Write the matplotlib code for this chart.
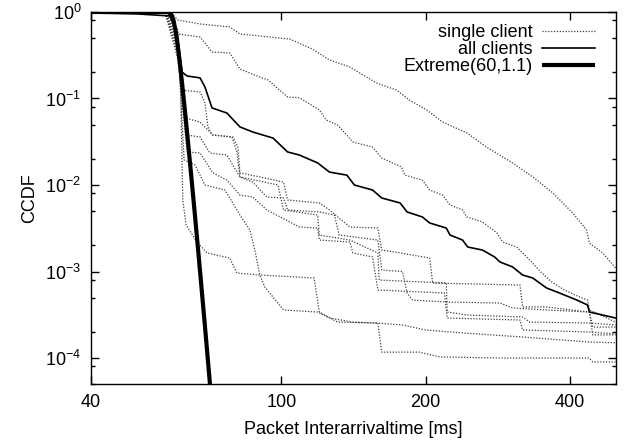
import matplotlib
matplotlib.use('Agg')
import matplotlib.pyplot as plt
from matplotlib.ticker import FixedLocator, FixedFormatter, LogLocator, NullLocator

plt.rcParams['font.family'] = ['Liberation Sans', 'DejaVu Sans']
plt.rcParams['font.size'] = 13
plt.rcParams['mathtext.fontset'] = 'custom'
plt.rcParams['mathtext.rm'] = 'Liberation Sans'
plt.rcParams['mathtext.it'] = 'Liberation Sans:italic'

# single client CCDFs
s1_x = [40, 57.1, 59.0, 60.8, 67.6, 78.0, 81.9, 104, 116, 126, 139, 158, 174, 185, 201, 217, 244, 268,
        304, 335, 369, 406, 434, 440, 469, 499]
s1_y = [1, 1, 0.948, 0.808, 0.727, 0.671, 0.557, 0.487, 0.373, 0.279, 0.231, 0.151, 0.125, 0.096, 0.0739,
        0.0535, 0.040, 0.0275, 0.018, 0.0124, 0.0081, 0.00475, 0.00302, 0.00213, 0.00164, 0.0011]

s2_x = [40, 57.1, 60.8, 67.6, 71.6, 78.0, 81.9, 90.1, 93.7, 103, 109, 120, 124, 131, 141, 155, 162, 178,
        181, 197, 204, 217, 225, 239, 244, 263, 282, 290, 310, 330, 350, 367, 390, 420, 436, 440, 469, 499]
s2_y = [1, 1, 0.557, 0.514, 0.345, 0.336, 0.219, 0.177, 0.164, 0.104, 0.102, 0.0739, 0.0565, 0.0494,
        0.0314, 0.0275, 0.0205, 0.0162, 0.0130, 0.0114, 0.00875, 0.00766, 0.00587, 0.00514, 0.00427,
        0.00374, 0.00279, 0.00219, 0.00192, 0.00136, 0.00096, 0.000756, 0.000611, 0.000507, 0.000468,
        0.000359, 0.000306, 0.00026]

l1_x = [40, 57.1, 60.8, 61.6, 62.2, 63.2, 66.6, 69.9, 78.0, 80.7, 90.1, 117, 120, 131, 158, 179, 200,
        239, 319, 440, 499]
l1_y = [1, 1, 0.619, 0.125, 0.00671, 0.00345, 0.00219, 0.00164, 0.00143, 0.00096, 0.000911, 0.000841,
        0.00034, 0.00026, 0.000254, 0.000241, 0.000211, 0.000195, 0.000175, 0.000153, 0.00015]

l2_x = [40, 57.1, 60.8, 62.0, 67.6, 69.2, 70.2, 71.6, 78.8, 80.7, 81.9, 98.3, 101, 119, 120, 139, 159,
        160, 221, 222, 244, 319, 330, 440, 499]
l2_y = [1, 1, 0.475, 0.125, 0.119, 0.0887, 0.0469, 0.0379, 0.0359, 0.0241, 0.0124, 0.01, 0.00514,
        0.0045, 0.00264, 0.00231, 0.00164, 0.000797, 0.000736, 0.00034, 0.000314, 0.000298, 0.00026,
        0.000254, 0.000241]

l3_x = [40, 57.1, 60.8, 62.9, 67.6, 71.9, 79.2, 81.1, 81.9, 90.1, 101, 103, 120, 126, 139, 159, 162,
        177, 204, 207, 315, 319, 358, 440, 447, 499]
l3_y = [1, 1, 0.364, 0.0595, 0.0535, 0.0379, 0.0359, 0.0275, 0.0138, 0.0124, 0.0108, 0.00671, 0.0062,
        0.00514, 0.00327, 0.00318, 0.00177, 0.00164, 0.00143, 0.000736, 0.000698, 0.000389, 0.000389,
        0.00034, 0.000228, 0.000228]

l4_x = [40, 57.1, 60.8, 63.2, 67.6, 70.9, 76.9, 81.9, 87.1, 93.2, 101, 103, 120, 129, 132, 159, 162,
        179, 183, 188, 221, 286, 304, 358, 440, 447, 499]
l4_y = [1, 1, 0.318, 0.0379, 0.0359, 0.0234, 0.0222, 0.0124, 0.0108, 0.00727, 0.00708, 0.00514,
        0.00488, 0.0045, 0.00264, 0.00231, 0.00104, 0.001, 0.000564, 0.000468, 0.000444, 0.000432,
        0.000379, 0.000359, 0.00034, 0.000185, 0.000185]

l5_x = [40, 57.1, 60.8, 63.5, 67.6, 71.9, 76.9, 81.9, 87.1, 93.2, 109, 119, 120, 139, 141, 155, 159,
        219, 222, 315, 319, 440, 499]
l5_y = [1, 1, 0.279, 0.0241, 0.0234, 0.0138, 0.0114, 0.00766, 0.00727, 0.00514, 0.00327, 0.00318,
        0.00231, 0.00219, 0.00164, 0.00147, 0.000611, 0.000564, 0.00029, 0.000275, 0.000211, 0.0002,
        0.00019]

l6_x = [40, 57.1, 60.8, 62.6, 66.0, 69.2, 76.2, 81.9, 85.9, 88.0, 90.1, 92.3, 101, 119, 126, 141, 159,
        162, 194, 214, 286, 440, 447, 499]
l6_y = [1, 1, 0.415, 0.0195, 0.017, 0.01, 0.00875, 0.0045, 0.00302, 0.00177, 0.000911, 0.000662,
        0.000359, 0.00034, 0.00029, 0.00026, 0.000254, 0.000117, 0.000117, 0.000103, 0.0001, 0.0001,
        9.0e-5, 9.0e-5]

# all clients together
all_x = [40, 50, 58.5, 60.5, 62.0, 63.5, 67.6, 69.2, 71.6, 76.9, 81.9, 87.1, 96, 103, 109, 119, 126,
         137, 142, 155, 162, 177, 183, 197, 204, 221, 225, 239, 245, 263, 279, 286, 304, 319, 335, 358,
         381, 414, 436, 440, 469, 499]
all_y = [0.975, 0.95, 0.899, 0.572, 0.202, 0.182, 0.173, 0.136, 0.0777, 0.068, 0.0469, 0.041, 0.0349,
         0.0241, 0.0222, 0.018, 0.0141, 0.0130, 0.0100, 0.00875, 0.00708, 0.0062, 0.00488, 0.00427,
         0.00364, 0.00318, 0.00264, 0.00231, 0.00192, 0.00177, 0.00147, 0.00129, 0.00113, 0.000911,
         0.000841, 0.000645, 0.000564, 0.000468, 0.00041, 0.00034, 0.000314, 0.00029]

# Extreme(60,1.1) fit
ext_x = [40, 55, 57, 58, 59, 59.5, 60, 60.5, 61, 62, 63, 64, 65, 66, 67, 68, 69, 70, 71]
ext_y = [1, 1, 1, 0.998, 0.916, 0.793, 0.632, 0.470, 0.332, 0.150, 0.0633, 0.026, 0.01056, 0.00427,
         0.001724, 0.000694, 0.00028, 0.000113, 4.54e-5]

x_ticks = [40, 100, 200, 400]

clients = [(s1_x, s1_y), (s2_x, s2_y), (l1_x, l1_y), (l2_x, l2_y), (l3_x, l3_y),
           (l4_x, l4_y), (l5_x, l5_y), (l6_x, l6_y)]

fig = plt.figure(figsize=(6.25, 4.44), dpi=100)
ax = fig.add_axes([0.1456, 0.135, 0.84, 0.838])

for i, (cx, cy) in enumerate(clients):
    ax.plot(cx, cy, color='0.25', lw=0.9, ls=(0, (1, 1.3)),
            label='single client' if i == 0 else None)
ax.plot(all_x, all_y, color='black', lw=1.2, label='all clients')
ax.plot(ext_x, ext_y, color='black', lw=3, label='Extreme(60,1.1)', solid_capstyle='butt')

ax.set_xscale('log')
ax.set_yscale('log')
ax.set_xlim(40, 500)
ax.set_ylim(5e-5, 1)
ax.xaxis.set_major_locator(FixedLocator(x_ticks))
ax.xaxis.set_major_formatter(FixedFormatter([str(t) for t in x_ticks]))
ax.xaxis.set_minor_locator(NullLocator())
ax.yaxis.set_major_locator(LogLocator(base=10, numticks=10))
ax.yaxis.set_minor_locator(LogLocator(base=10, subs=(2, 5, 8), numticks=10))

for sp in ax.spines.values():
    sp.set_linewidth(1.0)
ax.tick_params(which='both', direction='in', top=True, right=True, width=1.0)
ax.tick_params(which='major', length=6)
ax.tick_params(which='minor', length=3)
ax.tick_params(axis='y', pad=7)
ax.tick_params(axis='x', pad=7)

ax.set_xlabel('Packet Interarrivaltime [ms]')
ax.set_ylabel('CCDF')
ax.xaxis.set_label_coords(0.5, -0.098)
ax.yaxis.set_label_coords(-0.1, 0.5)

leg = ax.legend(loc='upper right', bbox_to_anchor=(0.96, 0.967), frameon=False, markerfirst=False,
                borderaxespad=0, borderpad=0, handlelength=2.95, handletextpad=0.5, labelspacing=0.0)
for vp in leg._legend_handle_box.get_children():
    vp.align = 'right'

fig.savefig('out.png', dpi=100)
